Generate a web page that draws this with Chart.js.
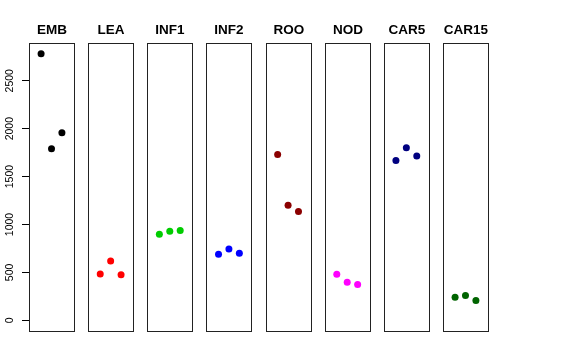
<!DOCTYPE html>
<html>
<head>
<meta charset="utf-8">
<script src="https://cdn.jsdelivr.net/npm/chart.js@4"></script>
<style>
  body { margin: 0; background: #fff; }
</style>
</head>
<body>
<canvas id="chart" width="576" height="360"></canvas>
<script>
// カテゴリと各3反復の値
const categories = ['EMB', 'LEA', 'INF1', 'INF2', 'ROO', 'NOD', 'CAR5', 'CAR15'];
const embValues = [2783, 1790, 1957];
const leaValues = [484, 620, 477];
const inf1Values = [899, 930, 937];
const inf2Values = [690, 745, 700];
const rooValues = [1731, 1202, 1136];
const nodValues = [481, 397, 373];
const car5Values = [1669, 1800, 1714];
const car15Values = [240, 258, 206];
const seriesValues = [embValues, leaValues, inf1Values, inf2Values, rooValues, nodValues, car5Values, car15Values];
const colors = ['#000000', '#FF0000', '#00CD00', '#0000FF', '#8B0000', '#FF00FF', '#000080', '#006400'];
const yTicks = [0, 500, 1000, 1500, 2000, 2500];

// パネル配置 (Rの4%拡張を再現)
const PANEL_GAP = 5.676;   // パネル間隔 (x単位)
const PAD = 0.16;          // パネル内の余白
const yMaxData = Math.max(...seriesValues.flat());
const yMin = -0.04 * yMaxData;
const yMax = yMaxData * 1.04;

const datasets = categories.map((cat, i) => ({
    label: cat,
    data: seriesValues[i].map((v, k) => ({ x: i * PANEL_GAP + (k + 1), y: v })),
    backgroundColor: colors[i],
    borderColor: colors[i],
    pointRadius: 3.5,
    pointBorderWidth: 0,
    showLine: false
}));

// パネル枠・タイトル・Y軸ラベル描画
const panelPlugin = {
    id: 'panels',
    afterDatasetsDraw(chart) {
        const { ctx, chartArea, scales } = chart;
        const xs = scales.x, ys = scales.y;
        ctx.save();
        ctx.strokeStyle = '#222';
        ctx.lineWidth = 1;
        ctx.fillStyle = '#000';
        ctx.textAlign = 'center';
        ctx.textBaseline = 'middle';
        ctx.font = 'bold 13.5px "Liberation Sans", Arial, sans-serif';
        categories.forEach((cat, i) => {
            const l = Math.round(xs.getPixelForValue(i * PANEL_GAP - PAD)) + 0.5;
            const r = Math.round(xs.getPixelForValue(i * PANEL_GAP + 4 + PAD)) + 0.5;
            const t = Math.round(chartArea.top) + 0.5;
            const b = Math.round(chartArea.bottom) + 0.5;
            ctx.strokeRect(l, t, r - l, b - t);
            ctx.fillText(cat, (l + r) / 2, 30);
        });
        // 縦書きの目盛ラベル
        ctx.font = '10.5px "Liberation Sans", Arial, sans-serif';
        yTicks.forEach(v => {
            const py = ys.getPixelForValue(v);
            ctx.save();
            ctx.translate(10, py);
            ctx.rotate(-Math.PI / 2);
            ctx.fillText(String(v), 0, 0);
            ctx.restore();
        });
        ctx.restore();
    }
};

new Chart(document.getElementById('chart'), {
    type: 'scatter',
    data: { datasets: datasets },
    options: {
        responsive: false,
        animation: false,
        layout: { padding: { top: 43, bottom: 29, left: 0, right: 88 } },
        plugins: {
            legend: { display: false },
            tooltip: { enabled: false }
        },
        scales: {
            x: {
                type: 'linear',
                display: false,
                min: -PAD,
                max: (categories.length - 1) * PANEL_GAP + 4 + PAD
            },
            y: {
                type: 'linear',
                min: yMin,
                max: yMax,
                afterBuildTicks: s => { s.ticks = yTicks.map(v => ({ value: v })); },
                afterFit: s => { s.width = 29; },
                ticks: { display: false },
                border: { display: false },
                grid: { drawOnChartArea: false, drawTicks: true, tickLength: 7, color: '#000' }
            }
        }
    },
    plugins: [panelPlugin]
});
</script>
</body>
</html>
